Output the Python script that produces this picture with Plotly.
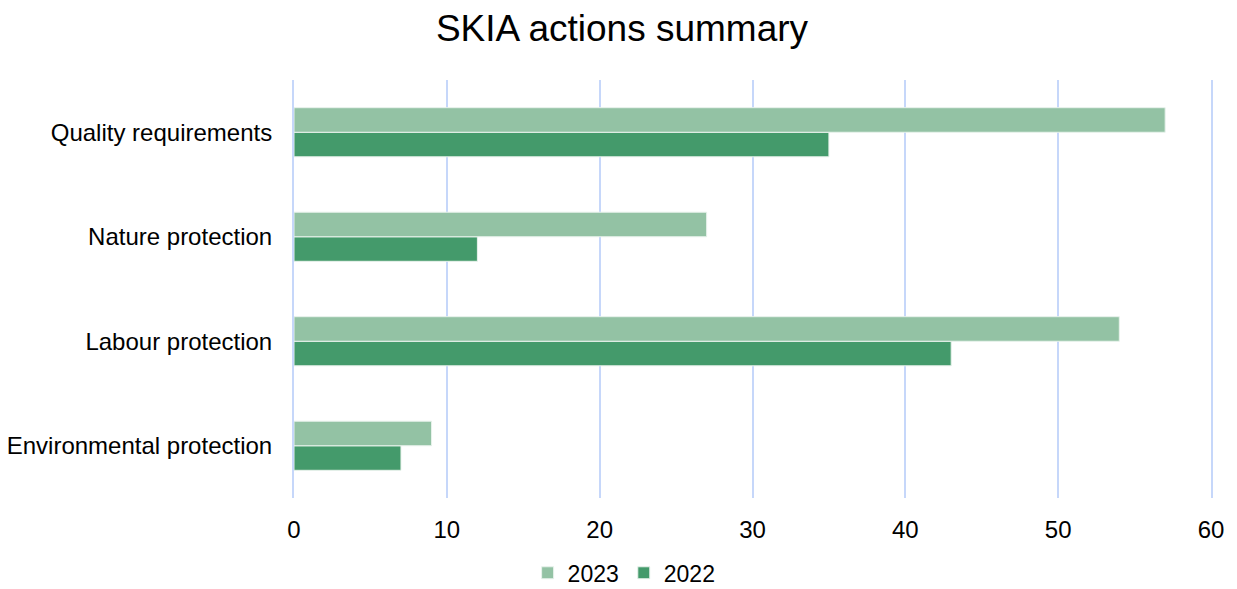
import plotly.graph_objects as go

categories = ["Environmental protection", "Labour protection", "Nature protection", "Quality requirements"]
values_2023 = [9, 54, 27, 57]
values_2022 = [7, 43, 12, 35]
x_ticks = [0, 10, 20, 30, 40, 50, 60]

fig = go.Figure()
fig.add_trace(go.Bar(y=categories, x=values_2022, name="2022", orientation="h",
                     marker=dict(color="#449A6B", line=dict(color="#E8F2EC", width=1))))
fig.add_trace(go.Bar(y=categories, x=values_2023, name="2023", orientation="h",
                     marker=dict(color="#93C2A4", line=dict(color="#E8F2EC", width=1))))

fig.update_layout(
    width=1229, height=581,
    margin=dict(l=286, r=26, t=72, b=91, autoexpand=False),
    paper_bgcolor="white", plot_bgcolor="white",
    font=dict(family="Liberation Sans, Arial, sans-serif", size=24, color="#000000"),
    title=dict(text="SKIA actions summary", x=0.4996, xanchor="center", y=0.966, yanchor="middle",
               font=dict(size=37, color="#000000")),
    barmode="group", bargap=0.53, bargroupgap=0,
    legend=dict(orientation="h", x=0.36, xanchor="center", y=-0.179, yanchor="middle",
                traceorder="reversed", font=dict(size=23), itemwidth=30,
                bgcolor="rgba(0,0,0,0)"),
    showlegend=True,
)
fig.update_xaxes(range=[0, 60], tickvals=x_ticks, showgrid=True, gridcolor="#C6D7FA", gridwidth=2,
                 zeroline=False, showline=False, ticks="", ticklabelstandoff=15, automargin=False)
fig.update_yaxes(categoryorder="array", categoryarray=categories, showgrid=False, zeroline=False,
                 showline=True, mirror=True, linecolor="#C6D7FA", linewidth=2,
                 ticks="", ticklabelstandoff=15, automargin=False, layer="below traces")

fig.write_html("out.html")
